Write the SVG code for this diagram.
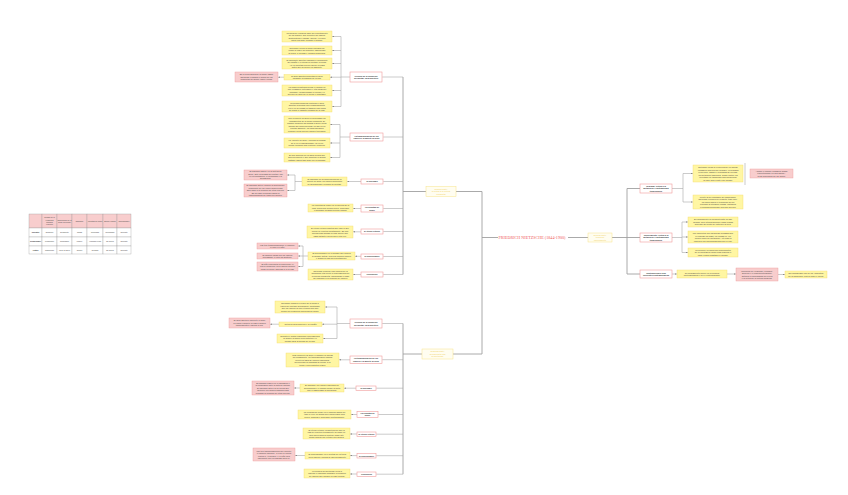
<svg xmlns="http://www.w3.org/2000/svg" width="848" height="495" viewBox="0 0 848 495">
<style>
.bg{fill:#fff}
.c{stroke:#a8a8a8;stroke-width:0.6;fill:none}
.c2{stroke:#a0a0a0;stroke-width:0.9;fill:none}
.y{fill:#fff6a3;stroke:#f2dc6c;stroke-width:0.4}
.p{fill:#f8cdcd;stroke:#ee9a9a;stroke-width:0.4}
.n{fill:#fff;stroke:#f09c9c;stroke-width:0.6}
.f{fill:#fffdf0;stroke:#f8e48a;stroke-width:0.5}
.t{font-family:"Liberation Sans",Arial,sans-serif;font-size:2.1px;fill:#444;text-anchor:middle}
.ts{font-family:"Liberation Sans",Arial,sans-serif;font-size:2px;fill:#444;text-anchor:middle}
.nt{font-family:"Liberation Sans",Arial,sans-serif;font-size:2px;font-weight:bold;fill:#333;text-anchor:middle}
.ft{font-family:"Liberation Sans",Arial,sans-serif;font-size:2.1px;fill:#f0cf5a;text-anchor:middle}
.rt{font-family:"Liberation Serif","Times New Roman",serif;font-size:3.7px;fill:#ef5a5a}
.th{font-family:"Liberation Sans",Arial,sans-serif;font-size:1.8px;fill:#444;text-anchor:middle}
.tb{font-family:"Liberation Sans",Arial,sans-serif;font-size:1.8px;font-weight:bold;fill:#333;text-anchor:middle}
.cell{fill:#fff;stroke:#9a9a9a;stroke-width:0.35}
.hcell{fill:#f8cdcd;stroke:#9a9a9a;stroke-width:0.35}
</style>
<defs>
<marker id="ar" viewBox="0 0 4 4" refX="4" refY="2" markerWidth="1.6" markerHeight="1.6" markerUnits="userSpaceOnUse" orient="auto"><path d="M0,0L4,2L0,4z" fill="#777"/></marker>
</defs>
<rect class="bg" x="0" y="0" width="848" height="495"/>

<g id="connectors">
<!-- root -->
<path class="c2" d="M498,237.5H482M482,191.5V354M482,191.5H456M482,354H453"/>
<path class="c2" d="M426,191.5H403M403,77V274.5"/>
<path class="c2" d="M422,354H403M403,323.5V474.2"/>
<path class="c2" d="M568,237.5H588M612,237.5H627M627,188.5V274M627,188.5H640M627,237.5H640M627,274H640"/>
<!-- upper main stubs -->
<path class="c" d="M403,77H382.3M403,137H383.3M403,181.5H383.3M403,208.5H383.3M403,231.5H383.3M403,256.5H383.3M403,274.5H383.3"/>
<!-- lower main stubs -->
<path class="c" d="M403,323.5H382.3M403,359.7H382.3M403,388.2H376.3M403,414.5H378.3M403,434.2H376.3M403,455.7H376.3M403,474.2H376.3"/>
<!-- U1 -->
<path class="c" d="M350,77H341M341,36.5V106.5"/>
<path class="c" marker-end="url(#ar)" d="M341,36.5H332.2"/>
<path class="c" marker-end="url(#ar)" d="M341,50.5H332.2"/>
<path class="c" marker-end="url(#ar)" d="M341,63.5H332.2"/>
<path class="c" marker-end="url(#ar)" d="M341,77.2H330.2"/>
<path class="c" marker-end="url(#ar)" d="M341,90.5H332.2"/>
<path class="c" marker-end="url(#ar)" d="M341,106.5H332.2"/>
<path class="c" marker-end="url(#ar)" d="M284,77.2H278.2"/>
<!-- U2 -->
<path class="c" d="M350,137H340M340,124.5V157.5"/>
<path class="c" marker-end="url(#ar)" d="M340,124.5H330.2"/>
<path class="c" marker-end="url(#ar)" d="M340,143H330.2"/>
<path class="c" marker-end="url(#ar)" d="M340,157.5H330.2"/>
<!-- U3 -->
<path class="c" marker-end="url(#ar)" d="M361,181.5H347.2"/>
<path class="c" d="M302,181.5H295M295,175V190.5"/>
<path class="c" marker-end="url(#ar)" d="M295,175H287.2"/>
<path class="c" marker-end="url(#ar)" d="M295,190.5H287.2"/>
<!-- U4-U7 -->
<path class="c" marker-end="url(#ar)" d="M361,208.5H353.2"/>
<path class="c" marker-end="url(#ar)" d="M361,231.8H353.2"/>
<path class="c" marker-end="url(#ar)" d="M361,256.3H355.2"/>
<path class="c" d="M308,256H303M303,246V266.5"/>
<path class="c" marker-end="url(#ar)" d="M303,246H298.2"/>
<path class="c" marker-end="url(#ar)" d="M303,256H298.2"/>
<path class="c" marker-end="url(#ar)" d="M303,266.5H298.2"/>
<path class="c" marker-end="url(#ar)" d="M361,274.5H353.2"/>
<!-- L1 -->
<path class="c" d="M350,323.5H337M337,307V338.5"/>
<path class="c" marker-end="url(#ar)" d="M337,307H325.2"/>
<path class="c" marker-end="url(#ar)" d="M337,324.2H322.2"/>
<path class="c" marker-end="url(#ar)" d="M337,338.5H323.2"/>
<path class="c" marker-end="url(#ar)" d="M279,324.2H270.2"/>
<!-- L2-L7 -->
<path class="c" marker-end="url(#ar)" d="M350,359.8H339.2"/>
<path class="c" marker-end="url(#ar)" d="M356,388.2H344.2"/>
<path class="c" marker-end="url(#ar)" d="M300,388H294.2"/>
<path class="c" marker-end="url(#ar)" d="M357,414.5H351.2"/>
<path class="c" marker-end="url(#ar)" d="M357,434H350.2"/>
<path class="c" marker-end="url(#ar)" d="M357,455.6H350.2"/>
<path class="c" marker-end="url(#ar)" d="M305,455.5H295.2"/>
<path class="c" marker-end="url(#ar)" d="M357,474H350.2"/>
<!-- R1 -->
<path class="c" d="M672,188.5H683M683,173.5V202"/>
<path class="c" marker-end="url(#ar)" d="M683,173.5H692.8"/>
<path class="c" marker-end="url(#ar)" d="M683,202H692.8"/>
<path class="c" d="M745,163V185"/>
<!-- R2 -->
<path class="c" d="M672,237.5H682M682,222V252.5"/>
<path class="c" marker-end="url(#ar)" d="M682,222H687.8"/>
<path class="c" marker-end="url(#ar)" d="M682,237H687.8"/>
<path class="c" marker-end="url(#ar)" d="M682,252.5H687.8"/>
<!-- R3 -->
<path class="c" marker-end="url(#ar)" d="M672,274H676.8"/>
<path class="c" marker-end="url(#ar)" d="M727,274H735.8"/>
<path class="c" marker-end="url(#ar)" d="M778,274.5H784.8"/>
</g>

<!-- ROOT -->
<g id="root"><text class="rt" x="498.5" y="238.8" textLength="67" lengthAdjust="spacingAndGlyphs">FRIEDRICH NIETZSCHE (1844-1900)</text></g>

<g id="part1"><rect class="f" x="426" y="186.5" width="30" height="10"/><text class="ft" x="441" y="189.8"><tspan x="441" dy="0">Primera parte:</tspan><tspan x="441" dy="2.5">la crítica a la cultura</tspan><tspan x="441" dy="2.5">occidental</tspan></text></g>
<g id="part2"><rect class="f" x="422" y="349" width="31" height="10"/><text class="ft" x="437.5" y="352.3"><tspan x="437.5" dy="0">Segunda parte:</tspan><tspan x="437.5" dy="2.5">la propuesta vital</tspan><tspan x="437.5" dy="2.5">de Nietzsche</tspan></text></g>
<g id="part3"><rect class="f" x="588" y="233" width="24" height="9"/><text class="ft" x="600" y="235.8"><tspan x="600" dy="0">Tercera parte:</tspan><tspan x="600" dy="2.5">teoría del</tspan><tspan x="600" dy="2.5">conocimiento</tspan></text></g>

<!-- upper nodes -->
<g id="u1"><rect class="n" x="350" y="72" width="32" height="10"/><text class="nt" x="366" y="76.5"><tspan x="366" dy="0">Génesis de la condición</tspan><tspan x="366" dy="2.6">occidental: ideal ascético</tspan></text></g>
<g id="u2"><rect class="n" x="350" y="133" width="33" height="8"/><text class="nt" x="366.5" y="136.5"><tspan x="366.5" dy="0">La transvaloración de los</tspan><tspan x="366.5" dy="2.6">valores y la muerte de Dios</tspan></text></g>
<g id="u3"><rect class="n" x="361" y="179" width="22" height="5"/><text class="nt" x="372" y="182.3">El nihilismo</text></g>
<g id="u4"><rect class="n" x="361" y="205" width="22" height="7"/><text class="nt" x="372" y="208"><tspan x="372" dy="0">La voluntad de</tspan><tspan x="372" dy="2.6">poder</tspan></text></g>
<g id="u5"><rect class="n" x="361" y="229" width="22" height="5"/><text class="nt" x="372" y="232.3">El eterno retorno</text></g>
<g id="u6"><rect class="n" x="361" y="254" width="22" height="5"/><text class="nt" x="372" y="257.3">El superhombre</text></g>
<g id="u7"><rect class="n" x="361" y="272" width="22" height="5"/><text class="nt" x="372" y="275.3">Conclusión</text></g>

<!-- upper children -->
<g id="uy1"><rect class="y" x="282" y="31" width="50" height="11"/><text class="t" x="307" y="33.5"><tspan x="307" dy="0">La moral de esclavos nace del resentimiento</tspan><tspan x="307" dy="2.5">de los débiles, que invierten los valores</tspan><tspan x="307" dy="2.5">aristocráticos y llaman «bueno» a lo que</tspan><tspan x="307" dy="2.5">antes era débil, humilde y sumiso.</tspan></text></g>
<g id="uy2"><rect class="y" x="282" y="46" width="50" height="9"/><text class="t" x="307" y="48.75"><tspan x="307" dy="0">Nietzsche critica la moral cristiana por</tspan><tspan x="307" dy="2.5">negar la vida y los instintos, imponiendo</tspan><tspan x="307" dy="2.5">la culpa, el pecado y la mala conciencia.</tspan></text></g>
<g id="uy3"><rect class="y" x="282" y="58" width="50" height="11"/><text class="t" x="307" y="60.5"><tspan x="307" dy="0">El sacerdote ascético canaliza el sufrimiento</tspan><tspan x="307" dy="2.5">del rebaño y le otorga un sentido: la culpa.</tspan><tspan x="307" dy="2.5">Así la voluntad prefiere querer la nada</tspan><tspan x="307" dy="2.5">antes que no querer en absoluto.</tspan></text></g>
<g id="uy4"><rect class="y" x="284" y="74.5" width="46" height="5.5"/><text class="ts" x="307" y="76.8"><tspan x="307" dy="0">El ideal ascético da sentido al dolor</tspan><tspan x="307" dy="2.3">mediante la negación de la vida.</tspan></text></g>
<g id="up1"><rect class="p" x="235" y="72" width="43" height="10"/><text class="t" x="256.5" y="75.25"><tspan x="256.5" dy="0">En la Genealogía de la moral (1887)</tspan><tspan x="256.5" dy="2.5">Nietzsche examina el origen de los</tspan><tspan x="256.5" dy="2.5">conceptos de bueno, malo y culpa.</tspan></text></g>
<g id="uy5"><rect class="y" x="282" y="85" width="50" height="11"/><text class="t" x="307" y="87.5"><tspan x="307" dy="0">La filosofía platónica divide el mundo en</tspan><tspan x="307" dy="2.5">uno verdadero (inteligible) y otro aparente</tspan><tspan x="307" dy="2.5">(sensible), despreciando el cuerpo y el</tspan><tspan x="307" dy="2.5">devenir en favor de lo eterno e inmutable.</tspan></text></g>
<g id="uy6"><rect class="y" x="282" y="101" width="50" height="11"/><text class="t" x="307" y="103.5"><tspan x="307" dy="0">La ciencia moderna continúa el ideal</tspan><tspan x="307" dy="2.5">ascético al buscar una verdad absoluta.</tspan><tspan x="307" dy="2.5">La fe en la verdad es también una forma</tspan><tspan x="307" dy="2.5">de negar el carácter creador de la vida.</tspan></text></g>

<g id="ut1"><rect class="y" x="284" y="116" width="46" height="17"/><text class="t" x="307" y="119"><tspan x="307" dy="0">Con la muerte de Dios se derrumban los</tspan><tspan x="307" dy="2.5">fundamentos de la moral occidental. El</tspan><tspan x="307" dy="2.5">hombre moderno ha matado a Dios y debe</tspan><tspan x="307" dy="2.5">asumir las consecuencias: no hay ya un</tspan><tspan x="307" dy="2.5">sentido absoluto. La transvaloración</tspan><tspan x="307" dy="2.5">propone crear nuevos valores terrenales.</tspan></text></g>
<g id="ut2"><rect class="y" x="284" y="138" width="46" height="10"/><text class="t" x="307" y="141.25"><tspan x="307" dy="0">La «muerte de Dios» expresa la pérdida</tspan><tspan x="307" dy="2.5">de fe en lo suprasensible; no es un</tspan><tspan x="307" dy="2.5">hecho teológico sino cultural e histórico.</tspan></text></g>
<g id="ut3"><rect class="y" x="284" y="153" width="46" height="9"/><text class="t" x="307" y="155.75"><tspan x="307" dy="0">El loco anuncia en La gaya ciencia que</tspan><tspan x="307" dy="2.5">Dios ha muerto y que nosotros lo hemos</tspan><tspan x="307" dy="2.5">matado: ahora todo debe ser revalorado.</tspan></text></g>

<g id="un1"><rect class="y" x="302" y="177" width="45" height="9"/><text class="t" x="324.5" y="179.75"><tspan x="324.5" dy="0">El nihilismo es la consecuencia de la</tspan><tspan x="324.5" dy="2.5">muerte de Dios: los valores supremos</tspan><tspan x="324.5" dy="2.5">se desvalorizan y pierden su sentido.</tspan></text></g>
<g id="unp1"><rect class="p" x="244" y="170" width="43" height="10"/><text class="t" x="265.5" y="172.3"><tspan x="265.5" dy="0">El nihilismo pasivo: es la actitud de</tspan><tspan x="265.5" dy="2.3">quien, ante la pérdida de sentido, cae</tspan><tspan x="265.5" dy="2.3">en la resignación, el pesimismo y la</tspan><tspan x="265.5" dy="2.3">decadencia.</tspan></text></g>
<g id="unp2"><rect class="p" x="244" y="184" width="43" height="13"/><text class="t" x="265.5" y="186.25"><tspan x="265.5" dy="0">El nihilismo activo: supone la destrucción</tspan><tspan x="265.5" dy="2.5">consciente de los viejos valores para</tspan><tspan x="265.5" dy="2.5">abrir paso a la creación de otros nuevos.</tspan><tspan x="265.5" dy="2.5">Es un paso necesario hacia la</tspan><tspan x="265.5" dy="2.5">transvaloración de todos los valores.</tspan></text></g>
<g id="uv1"><rect class="y" x="308" y="204" width="45" height="8"/><text class="t" x="330.5" y="206.25"><tspan x="330.5" dy="0">La voluntad de poder es la esencia de la</tspan><tspan x="330.5" dy="2.5">vida: fuerza que busca crecer, superarse</tspan><tspan x="330.5" dy="2.5">y afirmarse creando nuevas formas.</tspan></text></g>
<g id="ue1"><rect class="y" x="307" y="226" width="46" height="12"/><text class="t" x="330" y="229"><tspan x="330" dy="0">El eterno retorno plantea que todo lo que</tspan><tspan x="330" dy="2.5">ocurre se repetirá infinitamente. Es una</tspan><tspan x="330" dy="2.5">prueba para afirmar la vida: querer que</tspan><tspan x="330" dy="2.5">cada instante vuelva una y otra vez.</tspan></text></g>
<g id="us1"><rect class="y" x="308" y="252" width="47" height="8"/><text class="t" x="331.5" y="254.25"><tspan x="331.5" dy="0">El superhombre es el hombre que supera</tspan><tspan x="331.5" dy="2.5">al hombre actual, crea sus propios valores</tspan><tspan x="331.5" dy="2.5">y afirma la vida sin resentimiento.</tspan></text></g>
<g id="usp1"><rect class="p" x="257" y="243" width="41" height="6"/><text class="t" x="277.5" y="245.5"><tspan x="277.5" dy="0">Las tres transformaciones: el camello,</tspan><tspan x="277.5" dy="2.5">el león y el niño.</tspan></text></g>
<g id="usp2"><rect class="p" x="257" y="253" width="41" height="6"/><text class="t" x="277.5" y="255.5"><tspan x="277.5" dy="0">El camello carga con los valores</tspan><tspan x="277.5" dy="2.5">heredados; el león los destruye.</tspan></text></g>
<g id="usp3"><rect class="p" x="257" y="262" width="41" height="9"/><text class="t" x="277.5" y="264.75"><tspan x="277.5" dy="0">El niño representa la inocencia y el</tspan><tspan x="277.5" dy="2.5">nuevo comienzo: crea valores propios</tspan><tspan x="277.5" dy="2.5">como un juego, diciendo sí a la vida.</tspan></text></g>
<g id="uc1"><rect class="y" x="308" y="269" width="45" height="11"/><text class="t" x="330.5" y="271.5"><tspan x="330.5" dy="0">Nietzsche propone una filosofía de la</tspan><tspan x="330.5" dy="2.5">afirmación vital frente a la decadencia de</tspan><tspan x="330.5" dy="2.5">la cultura occidental, anunciando el paso</tspan><tspan x="330.5" dy="2.5">del nihilismo a la creación de valores.</tspan></text></g>

<!-- lower nodes -->
<g id="l1"><rect class="n" x="350" y="319" width="32" height="9"/><text class="nt" x="366" y="323"><tspan x="366" dy="0">Génesis de la condición</tspan><tspan x="366" dy="2.6">occidental: ideal ascético</tspan></text></g>
<g id="l2"><rect class="n" x="350" y="356" width="32" height="7.5"/><text class="nt" x="366" y="359.25"><tspan x="366" dy="0">La transvaloración de los</tspan><tspan x="366" dy="2.6">valores y la muerte de Dios</tspan></text></g>
<g id="l3"><rect class="n" x="356" y="386" width="20" height="4.5"/><text class="nt" x="366" y="389">El nihilismo</text></g>
<g id="l4"><rect class="n" x="357" y="411.5" width="21" height="6"/><text class="nt" x="367.5" y="414"><tspan x="367.5" dy="0">La voluntad de</tspan><tspan x="367.5" dy="2.4">poder</tspan></text></g>
<g id="l5"><rect class="n" x="357" y="432" width="19" height="4.5"/><text class="nt" x="366.5" y="435">El eterno retorno</text></g>
<g id="l6"><rect class="n" x="357" y="453.5" width="19" height="4.5"/><text class="nt" x="366.5" y="456.5">El superhombre</text></g>
<g id="l7"><rect class="n" x="357" y="472" width="19" height="4.5"/><text class="nt" x="366.5" y="475">Conclusión</text></g>

<!-- lower children -->
<g id="ly1"><rect class="y" x="275" y="301" width="50" height="12"/><text class="t" x="300" y="304"><tspan x="300" dy="0">Nietzsche analiza el origen de la moral a</tspan><tspan x="300" dy="2.5">través del método genealógico, mostrando</tspan><tspan x="300" dy="2.5">que los valores no son eternos sino que</tspan><tspan x="300" dy="2.5">surgen de relaciones históricas de poder.</tspan></text></g>
<g id="ly2"><rect class="y" x="279" y="322" width="43" height="4.5"/><text class="t" x="300.5" y="325">Crítica al ideal ascético y al rebaño</text></g>
<g id="lp1"><rect class="p" x="229" y="318" width="41" height="10"/><text class="t" x="249.5" y="321.25"><tspan x="249.5" dy="0">El ideal ascético convierte el dolor</tspan><tspan x="249.5" dy="2.5">en culpa y somete la vida a valores</tspan><tspan x="249.5" dy="2.5">trascendentes y ajenos a ella.</tspan></text></g>
<g id="ly3"><rect class="y" x="277" y="334" width="46" height="9"/><text class="t" x="300" y="336.75"><tspan x="300" dy="0">Sócrates y Platón inauguran la decadencia</tspan><tspan x="300" dy="2.5">al oponer la razón a los instintos y el</tspan><tspan x="300" dy="2.5">mundo ideal al mundo de la vida.</tspan></text></g>
<g id="lt1"><rect class="y" x="286" y="353" width="53" height="14"/><text class="t" x="312.5" y="355.75"><tspan x="312.5" dy="0">Tras la muerte de Dios, el hombre se queda</tspan><tspan x="312.5" dy="2.5">sin fundamento. La transvaloración implica</tspan><tspan x="312.5" dy="2.5">invertir la tabla de valores tradicional,</tspan><tspan x="312.5" dy="2.5">devolviendo su dignidad al cuerpo, a la</tspan><tspan x="312.5" dy="2.5">tierra y a los instintos vitales.</tspan></text></g>
<g id="ln1"><rect class="y" x="300" y="384" width="44" height="8"/><text class="t" x="322" y="386.25"><tspan x="322" dy="0">El nihilismo: los valores supremos se</tspan><tspan x="322" dy="2.5">desvalorizan y el mundo pierde la meta</tspan><tspan x="322" dy="2.5">que le había dado la metafísica.</tspan></text></g>
<g id="lnp1"><rect class="p" x="252" y="381" width="42" height="14"/><text class="t" x="273" y="383.75"><tspan x="273" dy="0">El nihilismo pasivo es el cansancio y</tspan><tspan x="273" dy="2.5">la resignación ante la falta de sentido.</tspan><tspan x="273" dy="2.5">El nihilismo activo es la fuerza que</tspan><tspan x="273" dy="2.5">destruye los valores caducos para</tspan><tspan x="273" dy="2.5">preparar la creación de otros nuevos.</tspan></text></g>
<g id="lv1"><rect class="y" x="298" y="410" width="53" height="9"/><text class="t" x="324.5" y="412.75"><tspan x="324.5" dy="0">La voluntad de poder es el impulso básico de</tspan><tspan x="324.5" dy="2.5">todo lo vivo: no busca solo conservarse sino</tspan><tspan x="324.5" dy="2.5">crecer, dominar y superarse continuamente.</tspan></text></g>
<g id="le1"><rect class="y" x="303" y="428" width="47" height="11"/><text class="t" x="326.5" y="430.5"><tspan x="326.5" dy="0">El eterno retorno: la hipótesis de que la</tspan><tspan x="326.5" dy="2.5">vida se repetirá eternamente tal como es.</tspan><tspan x="326.5" dy="2.5">Solo quien ama su destino (amor fati)</tspan><tspan x="326.5" dy="2.5">puede desear ese retorno con alegría.</tspan></text></g>
<g id="ls1"><rect class="y" x="305" y="452" width="45" height="7"/><text class="t" x="327.5" y="455"><tspan x="327.5" dy="0">El superhombre es el sentido de la tierra:</tspan><tspan x="327.5" dy="2.5">crea valores y afirma la vida plenamente.</tspan></text></g>
<g id="lsp1"><rect class="p" x="253" y="448" width="42" height="13"/><text class="t" x="274" y="451.5"><tspan x="274" dy="0">Las tres transformaciones del espíritu:</tspan><tspan x="274" dy="2.5">el camello obedece, el león se rebela</tspan><tspan x="274" dy="2.5">contra el «tú debes» y el niño crea</tspan><tspan x="274" dy="2.5">libremente con un sagrado decir sí.</tspan></text></g>
<g id="lc1"><rect class="y" x="304" y="469" width="46" height="9"/><text class="t" x="327" y="471.75"><tspan x="327" dy="0">La filosofía de Nietzsche invita a</tspan><tspan x="327" dy="2.5">superar el nihilismo mediante la creación</tspan><tspan x="327" dy="2.5">de valores que afirmen la vida terrenal.</tspan></text></g>

<!-- right nodes -->
<g id="r1"><rect class="n" x="640" y="184" width="32" height="9"/><text class="nt" x="656" y="186.7"><tspan x="656" dy="0">Realidad: Crítica a la</tspan><tspan x="656" dy="2.5">metafísica y epistemología</tspan><tspan x="656" dy="2.5">tradicionales</tspan></text></g>
<g id="r2"><rect class="n" x="640" y="233" width="32" height="9"/><text class="nt" x="656" y="235.7"><tspan x="656" dy="0">Conocimiento: Crítica a la</tspan><tspan x="656" dy="2.5">metafísica y epistemología</tspan><tspan x="656" dy="2.5">tradicionales</tspan></text></g>
<g id="r3"><rect class="n" x="640" y="270" width="32" height="8"/><text class="nt" x="656" y="273.5"><tspan x="656" dy="0">Contribuciones a las</tspan><tspan x="656" dy="2.5">corrientes contemporáneas</tspan></text></g>

<!-- right children -->
<g id="ry1"><rect class="y" x="693" y="165" width="50" height="17"/><text class="t" x="718" y="168"><tspan x="718" dy="0">Nietzsche niega la existencia de un mundo</tspan><tspan x="718" dy="2.5">verdadero más allá del sensible. La realidad</tspan><tspan x="718" dy="2.5">es devenir, cambio y pluralidad de fuerzas.</tspan><tspan x="718" dy="2.5">La metafísica tradicional, desde Platón, ha</tspan><tspan x="718" dy="2.5">inventado un trasmundo para despreciar</tspan><tspan x="718" dy="2.5">la vida. Solo existe este mundo.</tspan></text></g>
<g id="rp1"><rect class="p" x="750" y="169" width="43" height="9"/><text class="t" x="771.5" y="171.75"><tspan x="771.5" dy="0">«Cómo el mundo verdadero acabó</tspan><tspan x="771.5" dy="2.5">convirtiéndose en una fábula»,</tspan><tspan x="771.5" dy="2.5">en El crepúsculo de los ídolos.</tspan></text></g>
<g id="ry2"><rect class="y" x="693" y="195" width="50" height="14"/><text class="t" x="718" y="197.75"><tspan x="718" dy="0">Frente al ser inmutable de Parménides,</tspan><tspan x="718" dy="2.5">Nietzsche recupera a Heráclito: todo fluye.</tspan><tspan x="718" dy="2.5">La razón falsea el testimonio de los</tspan><tspan x="718" dy="2.5">sentidos al introducir unidad, sustancia</tspan><tspan x="718" dy="2.5">y permanencia donde solo hay devenir.</tspan></text></g>
<g id="ra1"><rect class="y" x="688" y="217" width="50" height="10"/><text class="t" x="713" y="220.25"><tspan x="713" dy="0">El conocimiento es perspectivista: no hay</tspan><tspan x="713" dy="2.5">hechos, solo interpretaciones. Toda verdad</tspan><tspan x="713" dy="2.5">depende del punto de vista que la crea.</tspan></text></g>
<g id="ra2"><rect class="y" x="688" y="231" width="50" height="12"/><text class="t" x="713" y="234"><tspan x="713" dy="0">Los conceptos son metáforas olvidadas que</tspan><tspan x="713" dy="2.5">el lenguaje ha fijado. La verdad es «un</tspan><tspan x="713" dy="2.5">ejército móvil de metáforas», útil para la</tspan><tspan x="713" dy="2.5">vida pero sin correspondencia con lo real.</tspan></text></g>
<g id="ra3"><rect class="y" x="688" y="248" width="50" height="9"/><text class="t" x="713" y="250.75"><tspan x="713" dy="0">La ciencia y la lógica son instrumentos</tspan><tspan x="713" dy="2.5">de la voluntad de poder para ordenar el</tspan><tspan x="713" dy="2.5">caos y hacer habitable el mundo.</tspan></text></g>
<g id="rc1"><rect class="y" x="677" y="270" width="50" height="8"/><text class="t" x="702" y="273.5"><tspan x="702" dy="0">Su pensamiento influye en la filosofía</tspan><tspan x="702" dy="2.5">contemporánea y en el existencialismo.</tspan></text></g>
<g id="rc2"><rect class="p" x="736" y="268" width="42" height="13"/><text class="t" x="757" y="271.5"><tspan x="757" dy="0">Influencia en Heidegger, Foucault,</tspan><tspan x="757" dy="2.5">Deleuze y el posestructuralismo;</tspan><tspan x="757" dy="2.5">anticipa el psicoanálisis de Freud</tspan><tspan x="757" dy="2.5">y la crítica de la cultura moderna.</tspan></text></g>
<g id="rc3"><rect class="y" x="785" y="271" width="42" height="7"/><text class="t" x="806" y="274"><tspan x="806" dy="0">Es considerado uno de los «maestros</tspan><tspan x="806" dy="2.5">de la sospecha» junto a Marx y Freud.</tspan></text></g>

<!-- table -->
<g id="table">
<rect class="hcell" x="29" y="214" width="13" height="14"/>
<rect class="hcell" x="42" y="214" width="15" height="14"/>
<rect class="hcell" x="57" y="214" width="15" height="14"/>
<rect class="hcell" x="72" y="214" width="15" height="14"/>
<rect class="hcell" x="87" y="214" width="16" height="14"/>
<rect class="hcell" x="103" y="214" width="14" height="14"/>
<rect class="hcell" x="117" y="214" width="14" height="14"/>
<rect class="cell" x="29" y="228" width="13" height="9"/><rect class="cell" x="42" y="228" width="15" height="9"/><rect class="cell" x="57" y="228" width="15" height="9"/><rect class="cell" x="72" y="228" width="15" height="9"/><rect class="cell" x="87" y="228" width="16" height="9"/><rect class="cell" x="103" y="228" width="14" height="9"/><rect class="cell" x="117" y="228" width="14" height="9"/>
<rect class="cell" x="29" y="237" width="13" height="9"/><rect class="cell" x="42" y="237" width="15" height="9"/><rect class="cell" x="57" y="237" width="15" height="9"/><rect class="cell" x="72" y="237" width="15" height="9"/><rect class="cell" x="87" y="237" width="16" height="9"/><rect class="cell" x="103" y="237" width="14" height="9"/><rect class="cell" x="117" y="237" width="14" height="9"/>
<rect class="cell" x="29" y="246" width="13" height="8"/><rect class="cell" x="42" y="246" width="15" height="8"/><rect class="cell" x="57" y="246" width="15" height="8"/><rect class="cell" x="72" y="246" width="15" height="8"/><rect class="cell" x="87" y="246" width="16" height="8"/><rect class="cell" x="103" y="246" width="14" height="8"/><rect class="cell" x="117" y="246" width="14" height="8"/>
<text class="th" x="49.5" y="218.1"><tspan x="49.5" dy="0">Sentido de la</tspan><tspan x="49.5" dy="2.4">existencia</tspan><tspan x="49.5" dy="2.4">humana</tspan><tspan x="49.5" dy="2.4">(valores)</tspan></text>
<text class="th" x="64.5" y="220.5"><tspan x="64.5" dy="0">Concepción de la</tspan><tspan x="64.5" dy="2.4">moral (bien/mal)</tspan></text>
<text class="th" x="79.5" y="221.7">Nihilismo</text>
<text class="th" x="95" y="221.7">Voluntad de poder</text>
<text class="th" x="110" y="221.7">Eterno retorno</text>
<text class="th" x="124" y="221.7">Superhombre</text>
<text class="tb" x="35.5" y="233.2">Sócrates</text>
<text class="tb" x="35.5" y="242.2" style="font-size:1.6px">Schopenhauer</text>
<text class="tb" x="35.5" y="250.7">Platón</text>
<text class="th" x="49.5" y="233.2">Negación</text><text class="th" x="64.5" y="233.2">Decadente</text><text class="th" x="79.5" y="233.2">Causa</text><text class="th" x="95" y="233.2">Reprimida</text><text class="th" x="110" y="233.2">Rechazado</text><text class="th" x="124" y="233.2">Opuesto</text>
<text class="th" x="49.5" y="242.2">Pesimismo</text><text class="th" x="64.5" y="242.2">Compasión</text><text class="th" x="79.5" y="242.2">Pasivo</text><text class="th" x="95" y="242.2">Voluntad ciega</text><text class="th" x="110" y="242.2">No aplica</text><text class="th" x="124" y="242.2">Opuesto</text>
<text class="th" x="49.5" y="250.7">Trasmundo</text><text class="th" x="64.5" y="250.7">Ideal del Bien</text><text class="th" x="79.5" y="250.7">Origen</text><text class="th" x="95" y="250.7">Negada</text><text class="th" x="110" y="250.7">No aplica</text><text class="th" x="124" y="250.7">Opuesto</text>
</g>
</svg>
